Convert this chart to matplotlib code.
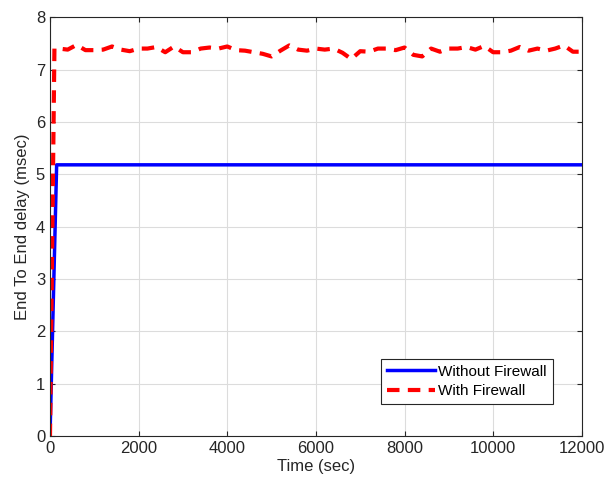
import numpy as np
import matplotlib.pyplot as plt

plt.rcParams['font.family'] = ['Liberation Sans', 'DejaVu Sans']

# --- Data ---
t_blue = [0, 150, 12000]
d_blue = [0, 5.18, 5.18]

t_red = [0, 100, 200, 400, 600, 800, 1000, 1200, 1400, 1600, 1800, 2000, 2200, 2400,
         2600, 2800, 3000, 3200, 3400, 3600, 3800, 4000, 4200, 4400, 4600, 4800,
         5000, 5200, 5400, 5600, 5800, 6000, 6200, 6400, 6600, 6800, 7000, 7200,
         7400, 7600, 7800, 8000, 8200, 8400, 8600, 8800, 9000, 9200, 9400, 9600,
         9800, 10000, 10200, 10400, 10600, 10800, 11000, 11200, 11400, 11600,
         11800, 12000]
d_red = [0, 7.40, 7.40, 7.38, 7.47, 7.37, 7.37, 7.38, 7.44, 7.38, 7.35, 7.40, 7.40,
         7.43, 7.33, 7.44, 7.33, 7.33, 7.40, 7.42, 7.40, 7.44, 7.37, 7.36, 7.33,
         7.30, 7.25, 7.36, 7.46, 7.38, 7.36, 7.40, 7.38, 7.40, 7.32, 7.20, 7.35,
         7.34, 7.40, 7.40, 7.37, 7.42, 7.28, 7.25, 7.40, 7.34, 7.40, 7.40, 7.43,
         7.38, 7.45, 7.33, 7.33, 7.36, 7.43, 7.36, 7.40, 7.36, 7.40, 7.46, 7.34,
         7.34]

fig = plt.figure(figsize=(6.06, 4.90), dpi=100)
ax = fig.add_axes([0.0825, 0.110, 0.8775, 0.855])

ax.plot(t_blue, d_blue, color='blue', lw=2.5, label='Without Firewall')
ax.plot(t_red, d_red, color='red', lw=3, ls=(0, (3, 2)), label='With Firewall')

ax.set_xlim(0, 12000)
ax.set_ylim(0, 8)
ax.set_xticks(np.arange(0, 12001, 2000))
ax.set_yticks(np.arange(0, 9, 1))
ax.grid(True, color='#dcdcdc', lw=0.8)
ax.tick_params(direction='in', top=True, right=True, labelsize=12, colors='#262626')
for s in ax.spines.values():
    s.set_color('#262626')
    s.set_linewidth(0.8)

ax.set_xlabel('Time (sec)', fontsize=12, color='#262626', labelpad=2)
ax.set_ylabel('End To End delay (msec)', fontsize=12, color='#262626', labelpad=4)

leg = ax.legend(loc='lower right', bbox_to_anchor=(0.945, 0.076), borderaxespad=0,
                fontsize=11, fancybox=False, framealpha=1, edgecolor='#262626',
                handlelength=3.1, handletextpad=0.2, borderpad=0.4, labelspacing=0.35)
leg.get_frame().set_linewidth(0.8)

fig.savefig('out.png', dpi=100)
